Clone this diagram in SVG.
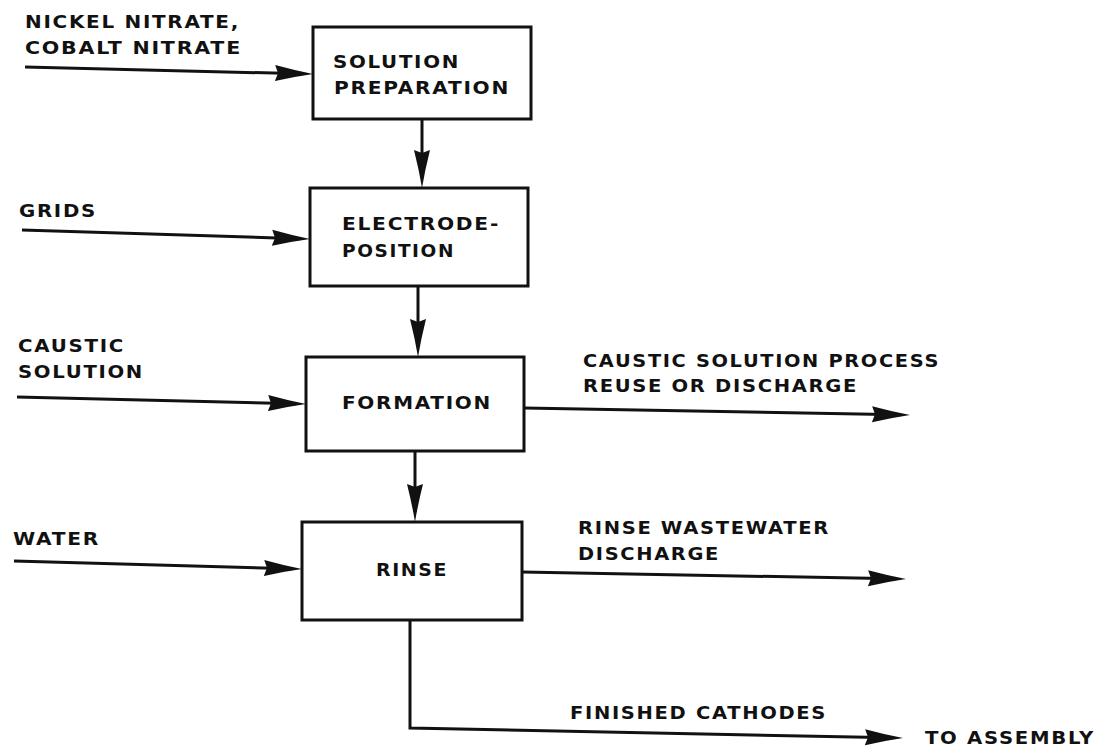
<svg xmlns="http://www.w3.org/2000/svg" width="1101" height="751" viewBox="0 0 1101 751">
  <defs>
    <style>
      .box { fill: #ffffff; stroke: #111111; stroke-width: 3; }
      .flow { fill: none; stroke: #111111; stroke-width: 3; stroke-linejoin: miter; }
      .lbl { font-family: "DejaVu Sans", "Liberation Sans", sans-serif; font-weight: bold; font-size: 17.5px; letter-spacing: 1.5px; fill: #111111; }
    </style>
    <!-- long, narrow arrowhead; tip sits 10 units past the path end -->
    <marker id="head" markerUnits="userSpaceOnUse" orient="auto" markerWidth="42" markerHeight="20" viewBox="0 -10 42 20" refX="28" refY="0">
      <path d="M38,0 Q20,-3 0,-8 L3,0 L0,8 Q20,3 38,0 Z" fill="#111111"/>
    </marker>
  </defs>

  <rect width="1101" height="751" fill="#ffffff"/>

  <!-- process steps -->
  <g id="solution-preparation">
    <rect class="box" x="313" y="27" width="218" height="92"/>
    <text class="lbl" x="333" y="68" textLength="127" lengthAdjust="spacingAndGlyphs">SOLUTION</text>
    <text class="lbl" x="334" y="94" textLength="176" lengthAdjust="spacingAndGlyphs">PREPARATION</text>
  </g>
  <g id="electrodeposition">
    <rect class="box" x="310" y="188" width="218" height="98"/>
    <text class="lbl" x="342" y="230" textLength="158" lengthAdjust="spacingAndGlyphs">ELECTRODE-</text>
    <text class="lbl" x="342" y="257" textLength="113" lengthAdjust="spacingAndGlyphs">POSITION</text>
  </g>
  <g id="formation">
    <rect class="box" x="306" y="357" width="218" height="94"/>
    <text class="lbl" x="342" y="409" textLength="150" lengthAdjust="spacingAndGlyphs">FORMATION</text>
  </g>
  <g id="rinse">
    <rect class="box" x="302" y="522" width="220" height="98"/>
    <text class="lbl" x="376" y="576" textLength="72" lengthAdjust="spacingAndGlyphs">RINSE</text>
  </g>

  <!-- stream labels -->
  <g id="in-nitrates">
    <text class="lbl" x="25" y="28" textLength="215" lengthAdjust="spacingAndGlyphs">NICKEL NITRATE,</text>
    <text class="lbl" x="25" y="54" textLength="217" lengthAdjust="spacingAndGlyphs">COBALT NITRATE</text>
  </g>
  <g id="in-grids">
    <text class="lbl" x="19" y="217" textLength="78" lengthAdjust="spacingAndGlyphs">GRIDS</text>
  </g>
  <g id="in-caustic">
    <text class="lbl" x="18" y="352" textLength="107" lengthAdjust="spacingAndGlyphs">CAUSTIC</text>
    <text class="lbl" x="18" y="378" textLength="126" lengthAdjust="spacingAndGlyphs">SOLUTION</text>
  </g>
  <g id="in-water">
    <text class="lbl" x="13" y="545" textLength="87" lengthAdjust="spacingAndGlyphs">WATER</text>
  </g>
  <g id="out-caustic">
    <text class="lbl" x="583" y="367" textLength="357" lengthAdjust="spacingAndGlyphs">CAUSTIC SOLUTION PROCESS</text>
    <text class="lbl" x="583" y="392" textLength="275" lengthAdjust="spacingAndGlyphs">REUSE OR DISCHARGE</text>
  </g>
  <g id="out-rinse">
    <text class="lbl" x="578" y="534" textLength="252" lengthAdjust="spacingAndGlyphs">RINSE WASTEWATER</text>
    <text class="lbl" x="578" y="560" textLength="142" lengthAdjust="spacingAndGlyphs">DISCHARGE</text>
  </g>
  <g id="out-cathodes">
    <text class="lbl" x="570" y="719" textLength="257" lengthAdjust="spacingAndGlyphs">FINISHED CATHODES</text>
    <text class="lbl" x="925" y="744" textLength="170" lengthAdjust="spacingAndGlyphs">TO ASSEMBLY</text>
  </g>

  <!-- connectors -->
  <g id="connectors">
    <path class="flow" d="M25,67 L303,73.8" marker-end="url(#head)"/>
    <path class="flow" d="M22,230 L300,238.7" marker-end="url(#head)"/>
    <path class="flow" d="M17,397 L296,403.8" marker-end="url(#head)"/>
    <path class="flow" d="M14,561 L292,568.7" marker-end="url(#head)"/>
    <path class="flow" d="M422,119 L422,178" marker-end="url(#head)"/>
    <path class="flow" d="M418,286 L418,347" marker-end="url(#head)"/>
    <path class="flow" d="M415,451 L415,512" marker-end="url(#head)"/>
    <path class="flow" d="M524,408 L900,414.8" marker-end="url(#head)"/>
    <path class="flow" d="M522,572 L896,578.8" marker-end="url(#head)"/>
    <path class="flow" d="M410,620 L410,728 L893,737.8" marker-end="url(#head)"/>
  </g>
</svg>
